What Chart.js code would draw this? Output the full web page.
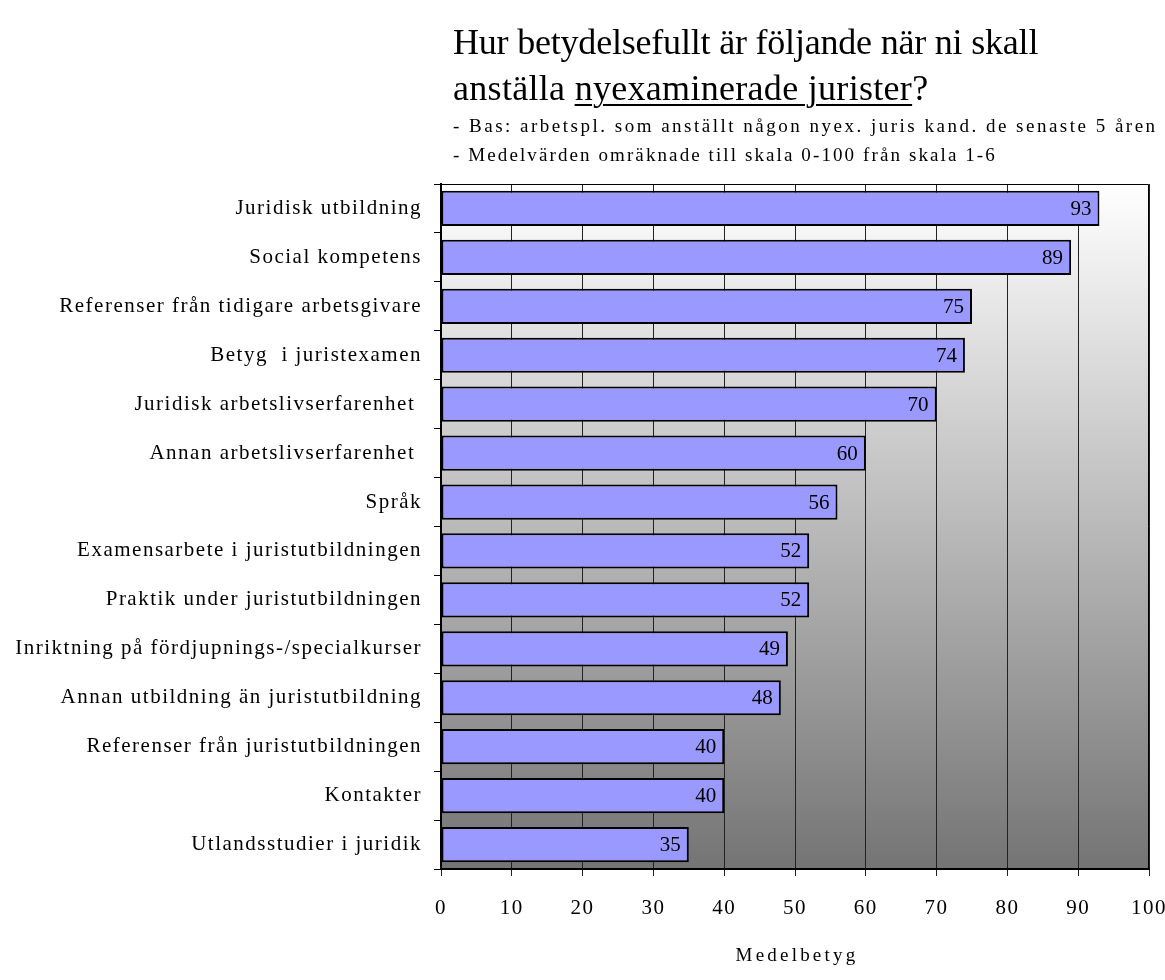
<!DOCTYPE html>
<html>
<head>
<meta charset="utf-8">
<script src="https://cdn.jsdelivr.net/npm/chart.js@4.4.1/dist/chart.umd.min.js"></script>
<style>
  body { margin: 0; background: #fff; }
  #wrap { position: relative; width: 1165px; height: 980px; }
  #chart { position: absolute; left: 0; top: 0; }
  .head { position: absolute; left: 453px; font-family: "Liberation Serif", "Times New Roman", serif; color: #000; white-space: nowrap; }
  .t1 { top: 21px; font-size: 36px; letter-spacing: -0.2px; }
  .t2 { top: 67px; font-size: 36px; letter-spacing: 0.3px; }
  .t2 u { text-decoration-thickness: 2px; text-underline-offset: 4px; }
  .s1 { top: 115px; font-size: 19px; letter-spacing: 2.5px; }
  .s2 { top: 144px; font-size: 19px; letter-spacing: 2.1px; }
</style>
</head>
<body>
<div id="wrap">
  <canvas id="chart" width="1165" height="980"></canvas>
  <div class="head t1">Hur betydelsefullt är följande när ni skall</div>
  <div class="head t2">anställa <u>nyexaminerade jurister</u>?</div>
  <div class="head s1">- Bas: arbetspl. som anställt någon nyex. juris kand. de senaste 5 åren</div>
  <div class="head s2">- Medelvärden omräknade till skala 0-100 från skala 1-6</div>
</div>
<script>
const categories = [
  "Juridisk utbildning",
  "Social kompetens",
  "Referenser från tidigare arbetsgivare",
  "Betyg  i juristexamen",
  "Juridisk arbetslivserfarenhet ",
  "Annan arbetslivserfarenhet ",
  "Språk",
  "Examensarbete i juristutbildningen",
  "Praktik under juristutbildningen",
  "Inriktning på fördjupnings-/specialkurser",
  "Annan utbildning än juristutbildning",
  "Referenser från juristutbildningen",
  "Kontakter",
  "Utlandsstudier i juridik"
];
const scores = [93, 89, 75, 74, 70, 60, 56, 52, 52, 49, 48, 40, 40, 35];
const xTicks = [0, 10, 20, 30, 40, 50, 60, 70, 80, 90, 100];
const xTitle = 'Medelbetyg';

const serif = "'Liberation Serif', 'Times New Roman', serif";

// gray gradient behind the plot, loose letter spacing for the axis text
const plotBackground = {
  id: 'plotBackground',
  beforeDraw(chart) {
    const { ctx, chartArea: a } = chart;
    const g = ctx.createLinearGradient(0, a.top, 0, a.bottom);
    g.addColorStop(0, '#ffffff');
    g.addColorStop(1, '#747474');
    ctx.save();
    ctx.fillStyle = g;
    ctx.fillRect(a.left, a.top, a.right - a.left, a.bottom - a.top);
    ctx.restore();
    ctx.letterSpacing = '1.5px';
  },
  afterDraw(chart) {
    const { ctx, chartArea: a } = chart;
    ctx.letterSpacing = '0px';
    ctx.save();
    ctx.strokeStyle = '#000';
    ctx.lineWidth = 1;
    ctx.beginPath();
    ctx.moveTo(a.left, a.top + 0.5);
    ctx.lineTo(a.right - 0.5, a.top + 0.5);
    ctx.lineTo(a.right - 0.5, a.bottom);
    ctx.stroke();

    // axis title
    ctx.letterSpacing = '3.2px';
    ctx.font = '19px ' + serif;
    ctx.fillStyle = '#000';
    ctx.textAlign = 'center';
    ctx.textBaseline = 'middle';
    ctx.fillText(xTitle, (a.left + a.right) / 2 + 2, 956);
    ctx.restore();
    ctx.letterSpacing = '0px';
  }
};

// value at the end of each bar
const barValues = {
  id: 'barValues',
  afterDatasetsDraw(chart) {
    const { ctx } = chart;
    const meta = chart.getDatasetMeta(0);
    ctx.save();
    ctx.letterSpacing = '0px';
    ctx.font = '21px ' + serif;
    ctx.fillStyle = '#000';
    ctx.textAlign = 'right';
    ctx.textBaseline = 'middle';
    meta.data.forEach((bar, i) => {
      ctx.fillText(String(scores[i]), bar.x - 8, bar.y + 1);
    });
    ctx.restore();
  }
};

new Chart(document.getElementById('chart'), {
  type: 'bar',
  data: {
    labels: categories,
    datasets: [{
      data: scores,
      backgroundColor: '#9999ff',
      borderColor: '#000',
      borderWidth: 2,
      borderSkipped: false,
      barPercentage: 0.72,
      categoryPercentage: 1
    }]
  },
  options: {
    indexAxis: 'y',
    responsive: false,
    animation: false,
    devicePixelRatio: 1,
    layout: { padding: { top: 184, right: 16, left: 0, bottom: 0 } },
    plugins: {
      legend: { display: false },
      tooltip: { enabled: false }
    },
    scales: {
      x: {
        min: 0,
        max: 100,
        afterFit(scale) {
          scale.height = 111;
          scale.paddingLeft = 0;
          scale.paddingRight = 0;
        },
        afterBuildTicks(scale) { scale.ticks = xTicks.map(v => ({ value: v })); },
        border: { display: true, color: '#000', width: 2 },
        grid: { color: '#222', lineWidth: 1, tickLength: 7 },
        ticks: { color: '#000', padding: 20, font: { family: serif, size: 21 } }
      },
      y: {
        afterFit(scale) { scale.width = 441; },
        border: { display: true, color: '#000', width: 2 },
        grid: { drawOnChartArea: false, color: '#000', tickLength: 7, offset: true },
        ticks: { color: '#000', padding: 12, font: { family: serif, size: 21 } }
      }
    }
  },
  plugins: [plotBackground, barValues]
});
</script>
</body>
</html>
